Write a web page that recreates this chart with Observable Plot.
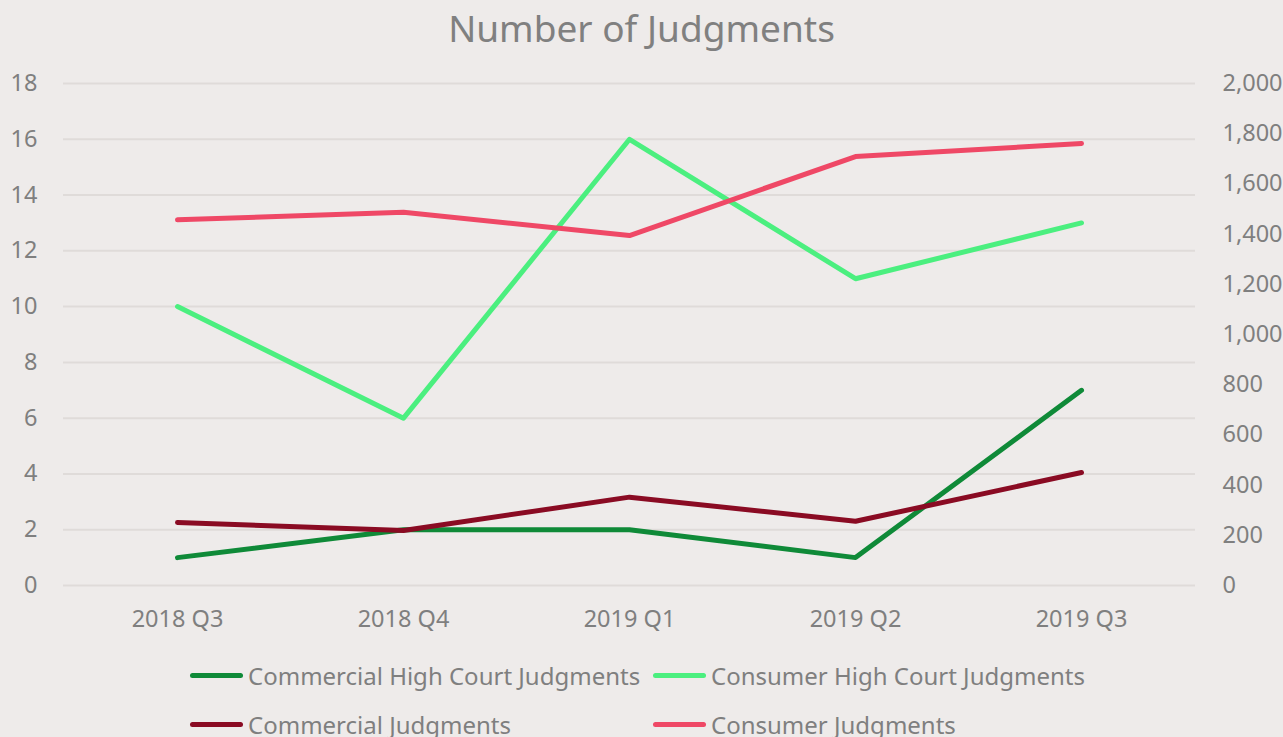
<!DOCTYPE html>
<html>
<head>
<meta charset="utf-8">
<script src="https://cdn.jsdelivr.net/npm/d3@7"></script>
<script src="https://cdn.jsdelivr.net/npm/@observablehq/plot@0.6"></script>
<style>
  html, body { margin: 0; padding: 0; background: #eeebea; overflow: hidden; }
  body { width: 1283px; height: 737px; font-family: "Noto Sans", sans-serif; color: #7f7f7f; }
  #title { height: 55px; line-height: 55px; text-align: center; font-size: 37px; color: #808080; }
  #legend { display: grid; grid-template-columns: 463px auto; padding-left: 190px; padding-top: 6px; }
  .item { display: flex; align-items: center; height: 49px; font-size: 24px; color: #7f7f7f; white-space: nowrap; }
  .sw { width: 53px; height: 5px; border-radius: 3px; margin-right: 5px; }
</style>
</head>
<body>
<div id="title">Number of Judgments</div>
<div id="chart"></div>
<div id="legend"></div>
<script>
const quarters = ["2018 Q3", "2018 Q4", "2019 Q1", "2019 Q2", "2019 Q3"];
const commercialHighCourt = [1, 2, 2, 1, 7];
const consumerHighCourt = [10, 6, 16, 11, 13];
const commercialJudgments = [251, 219, 352, 256, 450];
const consumerJudgments = [1457, 1487, 1394, 1709, 1761];
const leftTicks = [0, 2, 4, 6, 8, 10, 12, 14, 16, 18];
const rightTicks = [0, 200, 400, 600, 800, 1000, 1200, 1400, 1600, 1800, 2000];
const seriesNames = ["Commercial High Court Judgments", "Consumer High Court Judgments", "Commercial Judgments", "Consumer Judgments"];
const seriesColors = ["#0f8a38", "#4bef7f", "#8a0b23", "#ef4866"];

const leftMax = 18, rightMax = 2000;
const toLeft = v => v * leftMax / rightMax;

const rows = [];
quarters.forEach((q, i) => {
  rows.push({q, s: seriesNames[0], v: commercialHighCourt[i]});
  rows.push({q, s: seriesNames[1], v: consumerHighCourt[i]});
  rows.push({q, s: seriesNames[2], v: toLeft(commercialJudgments[i])});
  rows.push({q, s: seriesNames[3], v: toLeft(consumerJudgments[i])});
});

const chart = Plot.plot({
  width: 1283,
  height: 590,
  marginTop: 28,
  marginBottom: 60,
  marginLeft: 63,
  marginRight: 88,
  style: { background: "transparent", fontFamily: "Noto Sans, sans-serif", fontSize: "23.5px", color: "#7f7f7f" },
  x: { type: "point", domain: quarters, padding: 0.5 },
  y: { domain: [0, leftMax] },
  color: { domain: seriesNames, range: seriesColors },
  marks: [
    Plot.gridY(leftTicks, { stroke: "#dfdbd9", strokeOpacity: 1, strokeWidth: 2 }),
    Plot.axisY({ ticks: leftTicks, tickSize: 0, tickPadding: 26, label: null, textAnchor: "end", fill: "#7f7f7f", fontSize: 23.5 }),
    Plot.axisY({ anchor: "right", ticks: rightTicks.map(toLeft), tickSize: 0, tickPadding: 27, label: null, fontSize: 23.5,
      tickFormat: v => d3.format(",")(Math.round(v * rightMax / leftMax)), fill: "#7f7f7f" }),
    Plot.axisX({ tickSize: 0, tickPadding: 25, label: null, fill: "#7f7f7f", fontSize: 23.5 }),
    Plot.line(rows, { x: "q", y: "v", z: "s", stroke: "s", strokeWidth: 5, strokeLinecap: "round", strokeLinejoin: "round" })
  ]
});
document.getElementById("chart").appendChild(chart);

const legend = document.getElementById("legend");
seriesNames.forEach((n, i) => {
  const it = document.createElement("div");
  it.className = "item";
  const sw = document.createElement("span");
  sw.className = "sw";
  sw.style.background = seriesColors[i];
  const t = document.createElement("span");
  t.textContent = n;
  it.appendChild(sw); it.appendChild(t);
  legend.appendChild(it);
});
</script>
</body>
</html>
